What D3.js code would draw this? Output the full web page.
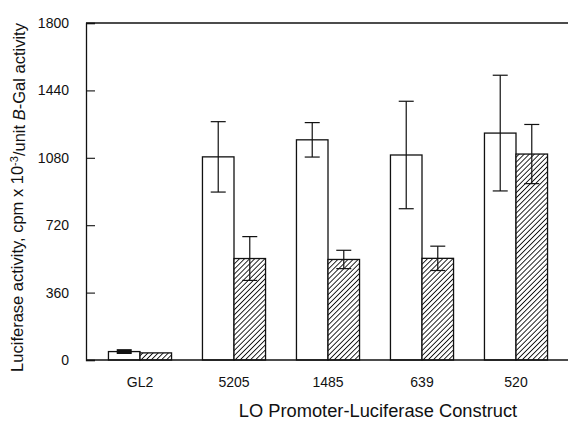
<!DOCTYPE html>
<html>
<head>
<meta charset="utf-8">
<script src="https://cdn.jsdelivr.net/npm/d3@7"></script>
<style>
  html, body { margin: 0; padding: 0; background: #fff; }
  svg { display: block; font-family: Arial, "Liberation Sans", Helvetica, sans-serif; }
</style>
</head>
<body>
<svg id="chart" width="568" height="424"></svg>
<script>
// Promoter constructs on the x axis
const constructs = ["GL2", "5205", "1485", "639", "520"];
// Open bars: luciferase activity, and their standard errors
const openValues = [45, 1085, 1176, 1095, 1212];
const openErrors = [5, 188, 92, 287, 309];
// Hatched bars: luciferase activity, and their standard errors
const hatchValues = [38, 542, 537, 543, 1100];
const hatchErrors = [0, 117, 49, 65, 158];
// Y axis ticks
const yTicks = [0, 360, 720, 1080, 1440, 1800];

const svg = d3.select("#chart");
const plotLeft = 86, plotRight = 568, plotTop = 23, plotBottom = 360;

const y = d3.scaleLinear().domain([0, 1800]).range([plotBottom, plotTop]);
const x = d3.scaleBand().domain(constructs).range([93, 563]).paddingInner(0).paddingOuter(0);
const series = d3.scaleBand().domain(["open", "hatch"]).range([0, x.bandwidth()]).paddingInner(0).paddingOuter(0.49);

// diagonal hatch pattern
const defs = svg.append("defs");
const pat = defs.append("pattern")
  .attr("id", "hatch")
  .attr("patternUnits", "userSpaceOnUse")
  .attr("width", 3.6).attr("height", 3.6)
  .attr("patternTransform", "rotate(45)");
pat.append("rect").attr("width", 3.6).attr("height", 3.6).attr("fill", "#fff");
pat.append("line").attr("x1", 0).attr("y1", 0).attr("x2", 0).attr("y2", 3.6)
  .attr("stroke", "#111").attr("stroke-width", 1.8);

const rows = constructs.map((c, i) => ({
  c,
  bars: [
    { key: "open", v: openValues[i], e: openErrors[i] },
    { key: "hatch", v: hatchValues[i], e: hatchErrors[i] }
  ]
}));

const groups = svg.append("g").selectAll("g").data(rows).join("g")
  .attr("transform", d => `translate(${x(d.c)},0)`);

groups.selectAll("rect").data(d => d.bars).join("rect")
  .attr("x", d => series(d.key))
  .attr("y", d => y(d.v))
  .attr("width", series.bandwidth())
  .attr("height", d => y(0) - y(d.v))
  .attr("fill", d => d.key === "open" ? "#fff" : "url(#hatch)")
  .attr("stroke", "#111")
  .attr("stroke-width", 1.3);

// error bars
const cap = 7.5;
const eb = groups.selectAll("g.err").data(d => d.bars.filter(b => b.e > 0)).join("g").attr("class", "err")
  .attr("transform", d => `translate(${series(d.key) + series.bandwidth() / 2},0)`);
eb.append("line").attr("x1", 0).attr("x2", 0)
  .attr("y1", d => y(d.v + d.e)).attr("y2", d => y(d.v - d.e))
  .attr("stroke", "#111").attr("stroke-width", 1.2);
eb.append("line").attr("x1", -cap).attr("x2", cap)
  .attr("y1", d => y(d.v + d.e)).attr("y2", d => y(d.v + d.e))
  .attr("stroke", "#111").attr("stroke-width", d => d.e < 10 ? 3 : 1.2);
eb.append("line").attr("x1", -cap).attr("x2", cap)
  .attr("y1", d => y(d.v - d.e)).attr("y2", d => y(d.v - d.e))
  .attr("stroke", "#111").attr("stroke-width", d => d.e < 10 ? 3 : 1.2);

// frame: top line and bottom line
svg.append("line").attr("x1", plotLeft).attr("x2", plotRight).attr("y1", plotTop).attr("y2", plotTop)
  .attr("stroke", "#111").attr("stroke-width", 1.3);
svg.append("line").attr("x1", plotLeft).attr("x2", plotRight).attr("y1", plotBottom).attr("y2", plotBottom)
  .attr("stroke", "#111").attr("stroke-width", 1.3);

// y axis with inward ticks
const yAxis = d3.axisRight(y).tickValues(yTicks).tickSize(9).tickFormat("");
const ya = svg.append("g").attr("transform", `translate(${plotLeft},0)`).call(yAxis);
ya.select(".domain").attr("stroke", "#111").attr("stroke-width", 1.3);
ya.selectAll(".tick line").attr("stroke", "#111").attr("stroke-width", 1.1);

svg.append("g").selectAll("text").data(yTicks).join("text")
  .attr("x", 69).attr("y", d => y(d)).attr("dy", "0.36em")
  .attr("text-anchor", "end").attr("font-size", 14).attr("fill", "#111")
  .text(d => d);

// x category labels
svg.append("g").selectAll("text").data(constructs).join("text")
  .attr("x", d => x(d) + x.bandwidth() / 2).attr("y", 387)
  .attr("text-anchor", "middle").attr("font-size", 14).attr("fill", "#111")
  .text(d => d);

// x axis title
svg.append("text").attr("x", 378).attr("y", 417)
  .attr("text-anchor", "middle").attr("font-size", 18.3).attr("fill", "#111")
  .text("LO Promoter-Luciferase Construct");

// y axis title
const yt = svg.append("text")
  .attr("transform", `translate(23,${(plotTop + plotBottom) / 2 + 6}) rotate(-90)`)
  .attr("text-anchor", "middle").attr("font-size", 16.5).attr("fill", "#111");
yt.append("tspan").text("Luciferase activity, cpm x 10");
yt.append("tspan").attr("dy", "-0.45em").attr("font-size", 11).text("-3");
yt.append("tspan").attr("dy", "0.45em").text("/unit ");
yt.append("tspan").attr("font-style", "italic").text("B");
yt.append("tspan").text("-Gal activity");
</script>
</body>
</html>
